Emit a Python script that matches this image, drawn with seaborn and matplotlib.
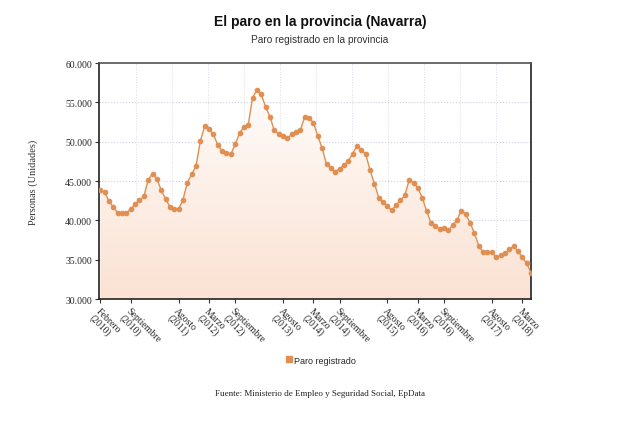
import numpy as np
import pandas as pd
import matplotlib
matplotlib.use('Agg')
import matplotlib.pyplot as plt
import seaborn as sns
from matplotlib.colors import LinearSegmentedColormap
from matplotlib.lines import Line2D
from matplotlib.ticker import FuncFormatter

# DATOS: PARO REGISTRADO MENSUAL (FEBRERO 2010 - MAYO 2018)
paro = [43830, 43600, 42400, 41715, 40915, 40900, 40915, 41420, 42055, 42550,
        43030, 45140, 45950, 45315, 43830, 42775, 41715, 41500, 41420, 42600,
        44800, 45860, 46915, 50090, 51990, 51600, 50940, 49560, 48820, 48600,
        48380, 49670, 51050, 51870, 52100, 55600, 56560, 56000, 54400, 53180,
        51420, 51000, 50680, 50430, 50940, 51220, 51490, 53180, 53000, 52420,
        50720, 49140, 47110, 46660, 46200, 46580, 47020, 47530, 48490, 49460,
        49000, 48400, 46390, 44680, 42900, 42350, 41780, 41270, 41970, 42560,
        43180, 45140, 44800, 44100, 42880, 41210, 39700, 39300, 38920, 39050,
        38720, 39400, 40080, 41250, 40750, 39700, 38380, 36770, 35960, 35960,
        35960, 35310, 35540, 35800, 36300, 36690, 36090, 35300, 34550, 33340]
meses = list(range(len(paro)))

tick_pos = [0, 7, 18, 25, 31, 42, 49, 55, 66, 73, 79, 90, 97]
tick_labels = ['Febrero\n(2010)', 'Septiembre\n(2010)', 'Agosto\n(2011)', 'Marzo\n(2012)',
               'Septiembre\n(2012)', 'Agosto\n(2013)', 'Marzo\n(2014)', 'Septiembre\n(2014)',
               'Agosto\n(2015)', 'Marzo\n(2016)', 'Septiembre\n(2016)', 'Agosto\n(2017)',
               'Marzo\n(2018)']

df = pd.DataFrame({'mes': meses, 'paro': paro})

NARANJA = '#DF8F52'
SERIF = ['Liberation Serif', 'DejaVu Serif']
SANS = ['Liberation Sans', 'DejaVu Sans']

sns.set_style('white')
plt.rcParams['font.family'] = SANS

fig = plt.figure(figsize=(6.4, 4.31), dpi=100)
ax = fig.add_axes([99 / 640, 1 - 300 / 431, (531 - 99) / 640, (300 - 64) / 431])

# RELLENO DEGRADADO BAJO LA LINEA
y0, y1 = 30000, 60000
poly = ax.fill_between(df['mes'], df['paro'], y0, color='none', lw=0)
cmap = LinearSegmentedColormap.from_list('grad', ['#FBE2D3', '#FFFFFF'])
grad = np.linspace(0, 1, 256).reshape(-1, 1)
img = ax.imshow(grad, extent=[-0.3, 99, y0, y1], aspect='auto', cmap=cmap,
                origin='lower', zorder=1)
img.set_clip_path(poly.get_paths()[0], transform=ax.transData)

sns.lineplot(data=df, x='mes', y='paro', ax=ax, color=NARANJA, lw=1.0,
             marker='o', markersize=3.3, markeredgecolor=NARANJA, zorder=3)

ax.set_xlim(-0.3, 99)
ax.set_ylim(y0, y1)

# REJILLA
ax.set_yticks(np.arange(30000, 60001, 5000))
ax.yaxis.set_major_formatter(FuncFormatter(lambda v, p: f'{int(v):,}'.replace(',', '.')))
ax.grid(axis='y', color='#cfcfdf', ls=':', lw=0.8)
for gx in np.arange(1, 12) * 8.26:
    ax.axvline(gx, color='#dcdcea', lw=0.7, ls=':', zorder=0.5)

ax.set_xticks(tick_pos)
ax.set_xticklabels(tick_labels, rotation=-45, ha='left', va='top',
                   rotation_mode='anchor', family=SERIF, fontsize=7, linespacing=1.0)
for lab in ax.get_yticklabels():
    lab.set_family(SERIF)
    lab.set_fontsize(7)
ax.tick_params(axis='both', length=3, width=0.8, color='#333333', direction='out',
               bottom=True, left=True, pad=2)

for side, sp in ax.spines.items():
    sp.set_visible(True)
    sp.set_color('#222222' if side in ('left', 'bottom', 'right') else '#555555')
    sp.set_linewidth(1.2)

ax.set_xlabel('')
ax.set_ylabel('')

fig.text(33 / 640, 1 - 182 / 431, 'Personas (Unidades)', rotation=90, va='center',
         ha='center', family=SERIF, fontsize=7.5, color='#333333')

fig.text(0.5, 1 - 22 / 431, 'El paro en la provincia (Navarra)', ha='center', va='center',
         fontsize=10, fontweight='bold', color='#111111')
fig.text(0.5, 1 - 40 / 431, 'Paro registrado en la provincia', ha='center', va='center',
         fontsize=7.3, color='#333333')

handle = Line2D([], [], marker='s', color=NARANJA, ls='none', markersize=5)
fig.legend([handle], ['Paro registrado'], loc='center', bbox_to_anchor=(0.5, 1 - 361 / 431),
           frameon=False, fontsize=6.5, handletextpad=0.1, handlelength=1.0)

fig.text(0.5, 1 - 394 / 431, 'Fuente: Ministerio de Empleo y Seguridad Social, EpData',
         ha='center', va='center', family=SERIF, fontsize=6.5, color='#222222')

fig.savefig('out.png', dpi=100)
